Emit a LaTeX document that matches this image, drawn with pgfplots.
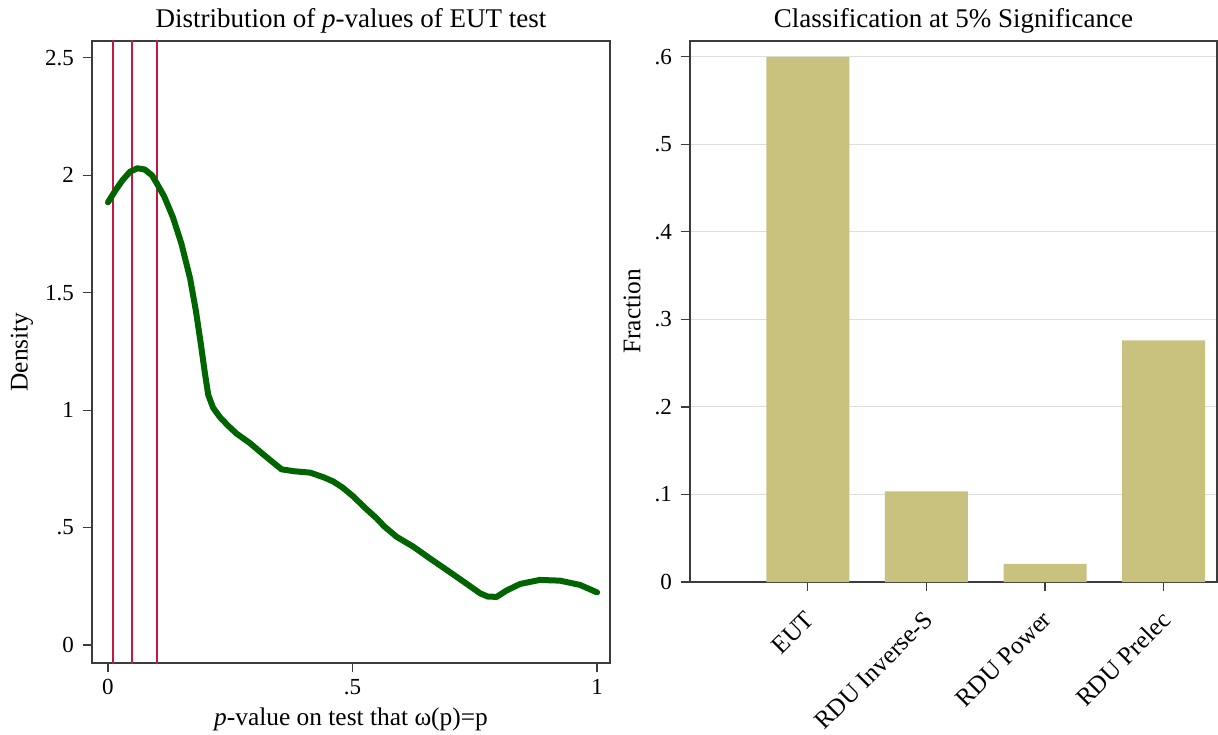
\documentclass[border=0pt]{standalone}
\usepackage{fontspec}
\setmainfont{Liberation Serif}
\usepackage{pgfplots}
\pgfplotsset{compat=1.18}

\definecolor{curvegreen}{RGB}{0,100,0}
\definecolor{cutred}{RGB}{196,24,66}
\definecolor{barkhaki}{RGB}{201,194,126}
\definecolor{framegray}{RGB}{60,60,60}

% kernel density of p-values
\pgfplotstableread{
x      y
0.000  1.885
0.015  1.935
0.030  1.980
0.045  2.015
0.060  2.030
0.075  2.025
0.090  2.000
0.100  1.965
0.115  1.910
0.133  1.820
0.150  1.710
0.168  1.560
0.180  1.420
0.190  1.280
0.198  1.160
0.205  1.065
0.215  1.010
0.229  0.970
0.245  0.935
0.263  0.900
0.290  0.860
0.311  0.823
0.333  0.785
0.355  0.748
0.380  0.740
0.413  0.734
0.440  0.715
0.461  0.696
0.480  0.670
0.502  0.632
0.525  0.585
0.549  0.540
0.565  0.505
0.590  0.461
0.624  0.419
0.658  0.369
0.693  0.319
0.727  0.270
0.761  0.220
0.777  0.206
0.795  0.205
0.815  0.232
0.843  0.260
0.883  0.277
0.924  0.274
0.965  0.256
1.000  0.224
}\densitytable

% share of subjects by preferred model
\pgfplotstableread{
pos  frac
1    0.6000
2    0.1034
3    0.0207
4    0.2759
}\classtable

\pgfplotsset{
  panel/.style={
    scale only axis,
    anchor=south west,
    axis line style={line width=0.6pt, framegray},
    tick align=outside,
    major tick length=4.5pt,
    tick style={line width=0.6pt, framegray},
    xtick pos=bottom, ytick pos=left,
    ticklabel style={font=\fontsize{11.5}{13}\selectfont},
    yticklabel style={xshift=-1pt},
    label style={font=\fontsize{12.7}{15}\selectfont},
  }
}

\begin{document}
\begin{tikzpicture}
\path[use as bounding box] (0,0) rectangle (609pt,367pt);

\begin{axis}[
  panel,
  at={(46pt,35.5pt)},
  width=259pt, height=311pt,
  xmin=-0.0327, xmax=1.0266,
  ymin=-0.0767, ymax=2.572,
  xtick={0,0.5,1}, xticklabels={0,.5,1},
  ytick={0,0.5,1,1.5,2,2.5}, yticklabels={0,.5,1,1.5,2,2.5},
  xlabel={\textit{p}-value on test that ω(p)=p},
  ylabel={Density},
  xlabel style={at={(axis description cs:0.5,0)}, anchor=base, yshift=-31pt},
  ylabel style={at={(axis description cs:0,0.5)}, anchor=center, yshift=35pt},
]
  \addplot[cutred, line width=1pt] coordinates {(0.01,-1) (0.01,3)};
  \addplot[cutred, line width=1pt] coordinates {(0.05,-1) (0.05,3)};
  \addplot[cutred, line width=1pt] coordinates {(0.10,-1) (0.10,3)};
  \addplot[curvegreen, line width=3pt, line join=round, line cap=round] table[x=x, y=y] {\densitytable};
\end{axis}

\begin{axis}[
  panel,
  at={(345pt,76pt)},
  width=263.5pt, height=270.5pt,
  xmin=0.006, xmax=4.45,
  ymin=0, ymax=0.618,
  ybar, bar width=0.7,
  xtick={1,2,3,4},
  xticklabels={EUT, RDU Inverse-S, RDU Power, RDU Prelec},
  xticklabel style={rotate=45, anchor=north east, xshift=-4.4pt, yshift=-1.7pt, font=\fontsize{12.5}{14}\selectfont},
  ytick={0,0.1,0.2,0.3,0.4,0.5,0.6}, yticklabels={0,.1,.2,.3,.4,.5,.6},
  ymajorgrids,
  grid style={line width=0.5pt, black!13},
  ylabel={Fraction},
  ylabel style={at={(axis description cs:0,0.5)}, anchor=center, yshift=29pt},
]
  \addplot[fill=barkhaki, draw=none] table[x=pos, y=frac] {\classtable};
\end{axis}

% panel titles
\node[anchor=base, font=\fontsize{13.5}{16}\selectfont] at (175.5pt,353pt) {Distribution of \textit{p}-values of EUT test};
\node[anchor=base, font=\fontsize{13.5}{16}\selectfont] at (476.75pt,353pt) {Classification at 5\% Significance};
\end{tikzpicture}
\end{document}
